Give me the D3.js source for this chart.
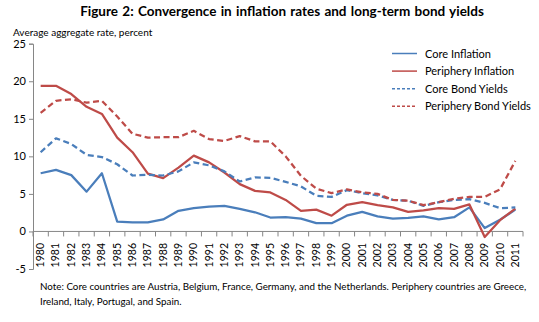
<!DOCTYPE html>
<html><head><meta charset="utf-8">
<script src="https://cdn.jsdelivr.net/npm/d3@7"></script>
<style>
body{margin:0;background:#fff;}
text{font-family:Lato,"Open Sans",sans-serif;fill:#000;}
</style></head>
<body><svg id="c" width="539" height="322"></svg>
<script>
const years = d3.range(1980, 2012).map(String);
const coreInflation = [7.75,8.2,7.5,5.3,7.75,1.3,1.2,1.2,1.6,2.75,3.1,3.3,3.4,3.0,2.55,1.85,1.9,1.7,1.1,1.1,2.1,2.6,2.0,1.7,1.8,2.0,1.6,1.9,3.2,0.45,1.55,2.9];
const peripheryInflation = [19.4,19.4,18.3,16.6,15.65,12.5,10.55,7.7,7.1,8.5,10.1,9.2,7.85,6.3,5.4,5.2,4.2,2.75,2.9,2.1,3.55,3.9,3.5,3.2,2.6,2.8,3.1,3.0,3.6,-0.75,1.5,3.05];
const coreBond = [10.55,12.4,11.65,10.2,9.9,8.95,7.45,7.55,7.45,8.0,9.2,8.8,8.0,6.65,7.2,7.15,6.6,6.0,4.75,4.6,5.5,5.1,4.8,4.2,4.1,3.4,3.9,4.2,4.3,3.8,3.1,3.2];
const peripheryBond = [15.8,17.4,17.6,17.15,17.4,15.3,13.0,12.5,12.55,12.55,13.4,12.3,12.05,12.7,12.0,12.0,10.0,7.4,5.7,5.1,5.6,5.2,5.0,4.2,4.1,3.5,3.9,4.35,4.6,4.6,5.6,9.4];
const yTicks = [-5,0,5,10,15,20,25];
const seriesNames = ["Core Inflation","Periphery Inflation","Core Bond Yields","Periphery Bond Yields"];
const seriesColors = ["#4A7EBB","#BE4B48","#4A7EBB","#BE4B48"];
const seriesDashed = [false,false,true,true];
const seriesData = [coreInflation, peripheryInflation, coreBond, peripheryBond];
const titleText = "Figure 2:  Convergence in inflation rates and long-term bond yields";
const yTitle = "Average aggregate rate, percent";
const noteLines = ["Note: Core countries are Austria, Belgium, France, Germany, and the Netherlands.  Periphery countries are Greece,","Ireland, Italy, Portugal, and Spain."];

const svg = d3.select("#c");
const pLeft = 33, pRight = 523, pTop = 43.7, pBottom = 269;
const x = d3.scaleBand().domain(years).range([pLeft, pRight]);
const y = d3.scaleLinear().domain([-5, 25]).range([pBottom, pTop]);
const axisColor = "#868686";

// title
svg.append("text").attr("x", 282).attr("y", 16).attr("text-anchor","middle")
  .style("font-weight","bold").style("font-size","13.5px").style("word-spacing","1px").text(titleText);
svg.append("text").attr("x", 13).attr("y", 35.5).style("font-size","10px").text(yTitle);

// y axis
const yAxis = svg.append("g").attr("transform",`translate(${pLeft},0)`)
  .call(d3.axisLeft(y).tickValues(yTicks).tickFormat(d=>String(d)).tickSize(4).tickPadding(3));
yAxis.select(".domain").attr("stroke", axisColor);
yAxis.selectAll(".tick line").attr("stroke", axisColor);
yAxis.selectAll(".tick text").style("font-size","11px").style("font-family","Lato,sans-serif");

// x axis at zero
const xg = svg.append("g").attr("transform",`translate(0,${y(0)})`);
xg.append("line").attr("x1", pLeft).attr("x2", pRight).attr("stroke", axisColor);
xg.selectAll("line.t").data(years.concat(["end"])).enter().append("line")
  .attr("x1", (d,i)=> pLeft + i*x.bandwidth()).attr("x2",(d,i)=> pLeft + i*x.bandwidth())
  .attr("y1",0).attr("y2",5).attr("stroke", axisColor);
svg.append("g").selectAll("text").data(years).enter().append("text")
  .attr("transform", d=>`translate(${x(d)+x.bandwidth()/2+3.5},${243}) rotate(-90)`)
  .attr("text-anchor","end").style("font-size","10.5px").text(d=>d);

// lines
const line = d3.line().x((d,i)=> x(years[i]) + x.bandwidth()/2).y(d=> y(d));
seriesData.forEach((s, k) => {
  svg.append("path").datum(s).attr("d", line).attr("fill","none")
    .attr("stroke", seriesColors[k]).attr("stroke-width", 2.25)
    .attr("stroke-linejoin","round")
    .attr("stroke-dasharray", seriesDashed[k] ? "6,3.5" : null);
});

// legend
const lg = svg.append("g");
seriesNames.forEach((n,k)=>{
  const yy = 53.5 + k*17.6;
  lg.append("line").attr("x1",392).attr("x2",417).attr("y1",yy).attr("y2",yy)
    .attr("stroke", seriesColors[k]).attr("stroke-width", 1.5)
    .attr("stroke-dasharray", seriesDashed[k] ? "3,2" : null);
  lg.append("text").attr("x",425).attr("y",yy+4).style("font-size","11px").text(n);
});

// note
noteLines.forEach((t,i)=>{
  svg.append("text").attr("x",40).attr("y",290 + i*14.5).style("font-size","9.8px").text(t);
});
</script></body></html>
